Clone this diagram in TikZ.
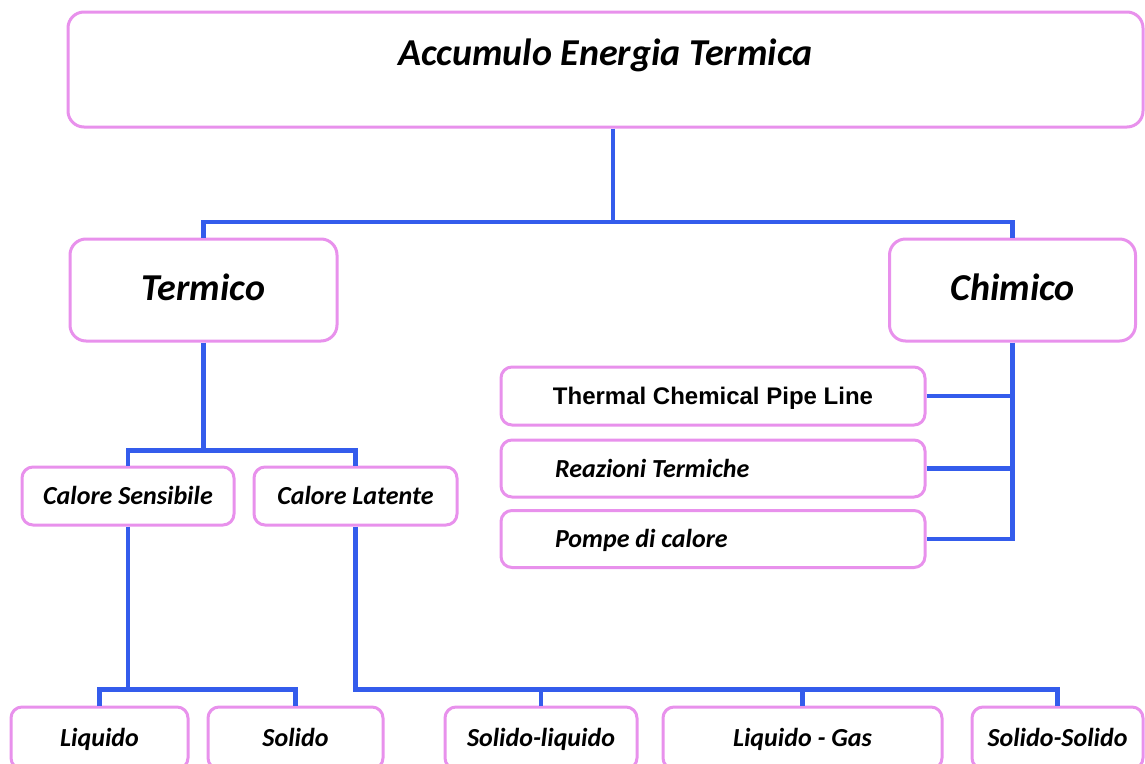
\documentclass[tikz,border=0pt]{standalone}
\usepackage{fontspec}
\setmainfont{Carlito}
\newfontfamily\arialfont{Liberation Sans}
\definecolor{boxpink}{RGB}{232,145,236}
\definecolor{linkblue}{RGB}{52,92,236}
\begin{document}
\begin{tikzpicture}[x=1pt, y=-1pt,
    box/.style={draw=boxpink, line width=3pt, rounded corners=11pt, fill=white,
      inner sep=0pt, text height=20pt, text depth=3pt, font=\fontsize{26}{30}\selectfont\bfseries\itshape},
    bigbox/.style={box, rounded corners=16pt, text height=28pt, text depth=7pt,
      font=\fontsize{38}{42}\selectfont\bfseries\itshape},
    leftbox/.style={box, minimum width=424pt, minimum height=57pt},
    link/.style={draw=linkblue, line width=4.5pt}]
    \useasboundingbox (0,0) rectangle (1145,763);
    \clip (0,0) rectangle (1145,763);

    \node[bigbox, minimum width=1075pt, minimum height=115pt, text height=24pt, text depth=32pt] (top) at (605.5,69.5) {Accumulo Energia Termica};
    \node[bigbox, minimum width=267pt, minimum height=102pt] (termico) at (203.5,290) {Termico};
    \node[bigbox, minimum width=246pt, minimum height=102pt] (chimico) at (1012.5,290) {Chimico};

    \node[box, minimum width=424pt, minimum height=58pt, font=\fontsize{24}{28}\selectfont\arialfont\bfseries] (pipeline) at (713,396) {Thermal Chemical Pipe Line};
    \node[leftbox] (reazioni) at (713,468.5) {\makebox[316pt][l]{Reazioni Termiche}};
    \node[leftbox] (pompe) at (713,539) {\makebox[316pt][l]{Pompe di calore}};

    \node[box, minimum width=212pt, minimum height=58pt] (sensibile) at (128,496) {Calore Sensibile};
    \node[box, minimum width=203pt, minimum height=58pt] (latente) at (355.5,496) {Calore Latente};

    \node[box, minimum width=177pt, minimum height=62pt] (liquido) at (99.5,738) {Liquido};
    \node[box, minimum width=175pt, minimum height=62pt] (solido) at (295.5,738) {Solido};
    \node[box, minimum width=192pt, minimum height=62pt] (solliq) at (541,738) {Solido-liquido};
    \node[box, minimum width=279pt, minimum height=62pt] (liqgas) at (802.5,738) {Liquido - Gas};
    \node[box, minimum width=171pt, minimum height=62pt] (solsol) at (1057.5,738) {Solido-Solido};

    \coordinate (hub) at (613,222);
    \draw[link] (top.south -| hub) -- (hub) -| (termico.north);
    \draw[link] (hub) -| (chimico.north);

    \coordinate (fork) at ([yshift=15pt]sensibile.north -| termico.south);
    \draw[link] (termico.south) -- (fork);
    \draw[link] (sensibile.north) |- (fork) -| (latente.north);

    \draw[link] (chimico.south) |- (pompe.east);
    \draw[link] (pipeline.east) -- (pipeline.east -| chimico.south);
    \draw[link] (reazioni.east) -- (reazioni.east -| chimico.south);

    \draw[link] (sensibile.south) |- ([yshift=16pt]liquido.north) -- (liquido.north);
    \draw[link] ([yshift=16pt]liquido.north) -| (solido.north);

    \draw[link] (latente.south) |- ([yshift=16pt]solsol.north) -- (solsol.north);
    \draw[link] (solliq.north) -- ([yshift=16pt]solliq.north);
    \draw[link] (liqgas.north) -- ([yshift=16pt]liqgas.north);
\end{tikzpicture}
\end{document}
